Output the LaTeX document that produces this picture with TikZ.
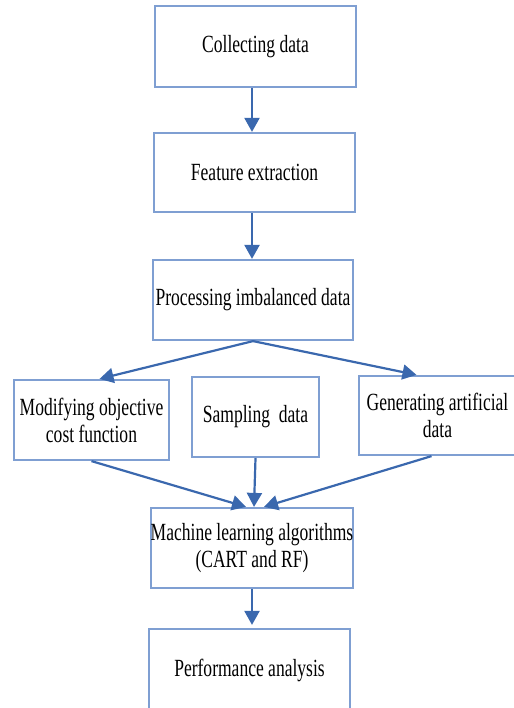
\documentclass[tikz,border=0pt]{standalone}
\usepackage{fontspec}
\setmainfont{Liberation Serif}[FakeStretch=0.71]
\usetikzlibrary{arrows.meta,calc}
\definecolor{boxc}{HTML}{7F9FD2}
\definecolor{arrc}{HTML}{3A68AE}
\begin{document}
\begin{tikzpicture}[x=1pt,y=-1pt,
  box/.style={draw=boxc,line width=2.2pt,inner sep=0pt,align=center,
    font=\fontsize{24.7}{27}\selectfont},
  arr/.style={draw=arrc,line width=2.2pt,-{Triangle[length=14pt,width=15pt]}}]
\useasboundingbox (0,0) rectangle (513,708);
\node[box,minimum width=201pt,minimum height=81pt] (b1) at (255.5,46.5) {Collecting data};
\node[box,minimum width=201pt,minimum height=79pt] (b2) at (254.5,172.5) {Feature extraction};
\node[box,minimum width=200pt,minimum height=80pt] (b3) at (253,300) {Processing imbalanced data};
\node[box,minimum width=155pt,minimum height=80pt] (b4) at (91.5,420) {Modifying objective\\cost function};
\node[box,minimum width=127pt,minimum height=80pt] (b5) at (255.5,417) {Sampling\ \ data};
\node[box,minimum width=157pt,minimum height=79pt] (b6) at (437.5,415.5) {Generating artificial\\data};
\node[box,minimum width=200pt,minimum height=80pt] (b7) at (252,548) {Machine learning algorithms\\(CART and RF)};
\node[box,minimum width=201pt,minimum height=82pt] (b8) at (249.5,670) {Performance analysis};
\coordinate (s1) at ($(b1.south)+(-3.5,0)$);
\coordinate (s2) at ($(b2.south)+(-2.5,0)$);
\coordinate (t4) at ($(b4.north)+(8,0)$);
\coordinate (t6) at ($(b6.north)+(-21,0)$);
\coordinate (l7) at ($(b7.north)+(-6,0)$);
\coordinate (m7) at ($(b7.north)+(2,0)$);
\coordinate (r7) at ($(b7.north)+(12,0)$);
\draw[arr] (s1) -- (s1 |- b2.north);
\draw[arr] (s2) -- (s2 |- b3.north);
\draw[arr] (b3.south) -- (t4);
\draw[arr] (b3.south) -- (t6);
\draw[arr] (b4.south) -- (l7);
\draw[arr] (b5.south) -- (m7);
\draw[arr] ($(b6.south)+(-6,0)$) -- (r7);
\draw[arr] (b7.south) -- ($(b7.south |- b8.north)+(0,-3)$);
\end{tikzpicture}
\end{document}
